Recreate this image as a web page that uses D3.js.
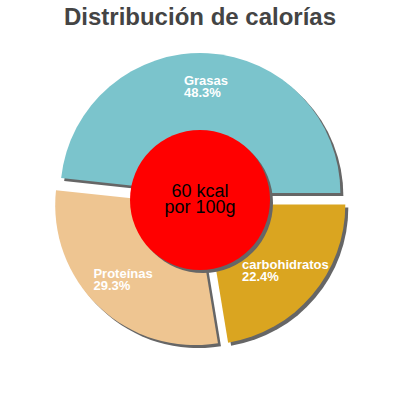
<!DOCTYPE html>
<html>
<head>
<meta charset="utf-8">
<script src="https://cdn.jsdelivr.net/npm/d3@7"></script>
<style>
  body { margin: 0; background: #fff; }
  svg { font-family: "Liberation Sans", Arial, sans-serif; }
</style>
</head>
<body>
<svg id="chart" width="400" height="400"></svg>
<script>
// chart values
const sliceLabels = ["carbohidratos", "Proteínas", "Grasas"];
const slicePercents = [22.4, 29.3, 48.3];
const sliceColors = ["#daa520", "#eec591", "#7bc4cc"];
const centerLines = ["60 kcal", "por 100g"];
const titleText = "Distribución de calorías";

const W = 400, H = 400;
const CX = 200, CY = 200;
const R = 140, R_IN = 70, EXPLODE = 7;
const SHADOW = 3;

var svg = d3.select("#chart");

svg.append("text")
    .attr("x", W / 2)
    .attr("y", 25)
    .attr("text-anchor", "middle")
    .attr("font-size", "24px")
    .attr("font-weight", "bold")
    .attr("fill", "#444")
    .text(titleText);

var data = sliceLabels.map(function (l, i) {
    return { label: l, value: slicePercents[i], color: sliceColors[i] };
});

var pie = d3.pie()
    .sort(null)
    .value(function (d) { return d.value; })
    .startAngle(Math.PI / 2)
    .endAngle(Math.PI / 2 + 2 * Math.PI);

var arcs = pie(data);

var arc = d3.arc().innerRadius(0).outerRadius(R);
var labelArc = d3.arc().innerRadius(R_IN).outerRadius(R);

function offset(d) {
    var mid = (d.startAngle + d.endAngle) / 2;
    return [EXPLODE * Math.sin(mid), -EXPLODE * Math.cos(mid)];
}

var g = svg.append("g").attr("transform", "translate(" + CX + "," + CY + ")");

// shadows first
g.selectAll("path.shadow")
    .data(arcs)
    .enter().append("path")
    .attr("class", "shadow")
    .attr("d", arc)
    .attr("fill", "#666")
    .attr("transform", function (d) {
        var o = offset(d);
        return "translate(" + (o[0] + SHADOW) + "," + (o[1] + SHADOW) + ")";
    });

g.selectAll("path.slice")
    .data(arcs)
    .enter().append("path")
    .attr("class", "slice")
    .attr("d", arc)
    .attr("fill", function (d) { return d.data.color; })
    .attr("transform", function (d) {
        var o = offset(d);
        return "translate(" + o[0] + "," + o[1] + ")";
    });

// labels: block centred on the ring centroid, lines left-aligned
arcs.forEach(function (d) {
    var c = labelArc.centroid(d);
    var o = offset(d);
    var x = c[0] + o[0], y = c[1] + o[1];
    var lines = [d.data.label, d.data.value.toFixed(1) + "%"];
    var t = g.append("text")
        .attr("font-size", "13px")
        .attr("font-weight", "bold")
        .attr("fill", "#fff");
    lines.forEach(function (ln, i) {
        t.append("tspan")
            .attr("y", y - 3.5 + i * 12)
            .text(ln);
    });
    var maxW = 0;
    t.selectAll("tspan").each(function () {
        maxW = Math.max(maxW, this.getComputedTextLength());
    });
    t.selectAll("tspan").attr("x", x - maxW / 2);
});

// centre disc
g.append("circle")
    .attr("cx", SHADOW).attr("cy", SHADOW)
    .attr("r", R_IN)
    .attr("fill", "#666");
g.append("circle")
    .attr("r", R_IN)
    .attr("fill", "#ff0000");

var ct = g.append("text")
    .attr("text-anchor", "middle")
    .attr("font-size", "18px")
    .attr("fill", "#000");
centerLines.forEach(function (ln, i) {
    ct.append("tspan")
        .attr("x", 0)
        .attr("y", -3 + i * 16)
        .text(ln);
});
</script>
</body>
</html>
